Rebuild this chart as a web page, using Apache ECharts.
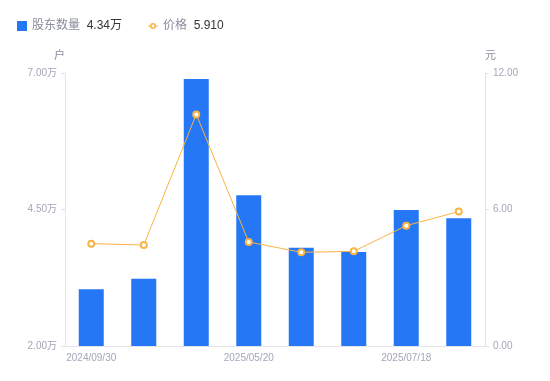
<!DOCTYPE html>
<html>
<head>
<meta charset="utf-8">
<style>
  html, body { margin: 0; padding: 0; background: #fff; }
  #chart { width: 550px; height: 381px; }
</style>
<script src="https://cdn.jsdelivr.net/npm/echarts@6/dist/echarts.min.js"></script>
</head>
<body>
<div id="chart"></div>
<script>
// 日期
var dates = ['2024/09/30', '2024/12/31', '2025/03/31', '2025/05/20', '2025/06/10', '2025/06/30', '2025/07/18', '2025/08/10'];
// 股东数量 (万户)
var holders = [3.04, 3.23, 6.89, 4.76, 3.80, 3.72, 4.49, 4.34];
// 价格 (元)
var prices = [4.50, 4.44, 10.18, 4.57, 4.12, 4.16, 5.29, 5.91];
var leftTicks = [2, 4.5, 7];
var rightTicks = [0, 6, 12];

var font = '"Liberation Sans", "Noto Sans CJK SC", sans-serif';
var axisGray = '#A3A6B8';
var lineGray = '#E3E4EA';
var blue = '#2577F5';
var orange = '#F9B445';

// 图例里的 线+空心圆
var lineIcon = 'path://M0 4.4H2.2V5.6H0Z M7.8 4.4H10V5.6H7.8Z ' +
  'M5 2A3 3 0 1 1 5 8A3 3 0 1 1 5 2Z M5 3.6A1.4 1.4 0 1 0 5 6.4A1.4 1.4 0 1 0 5 3.6Z';

var chart = echarts.init(document.getElementById('chart'));

var latest = {
  '股东数量': holders[holders.length - 1].toFixed(2) + '万',
  '价格': prices[prices.length - 1].toFixed(3)
};

chart.setOption({
  animation: false,
  textStyle: { fontFamily: font },
  legend: {
    left: 12,
    top: 15,
    itemWidth: 10,
    itemHeight: 10,
    itemGap: 26,
    data: [
      { name: '股东数量', icon: 'rect' },
      { name: '价格', icon: lineIcon }
    ],
    formatter: function (name) {
      return '{n|' + name + '}  {v|' + latest[name] + '}';
    },
    textStyle: {
      rich: {
        n: { color: '#8A8D9C', fontSize: 12, fontFamily: font },
        v: { color: '#333', fontSize: 12, fontFamily: font }
      }
    }
  },
  grid: { left: 65, right: 65, top: 73, bottom: 35 },
  xAxis: {
    type: 'category',
    data: dates,
    axisLine: { lineStyle: { color: lineGray } },
    axisTick: { show: false },
    axisLabel: { interval: 2, color: axisGray, fontSize: 10, margin: 7 }
  },
  yAxis: [
    {
      type: 'value',
      name: '户',
      nameGap: 12,
      nameTextStyle: { color: '#8A8D9C', fontSize: 11, align: 'right' },
      min: 2,
      max: 7,
      axisLine: { show: true, lineStyle: { color: lineGray } },
      axisTick: { show: true, length: 4, lineStyle: { color: lineGray }, customValues: leftTicks },
      splitLine: { show: false },
      axisLabel: {
        color: axisGray, fontSize: 10, margin: 8,
        customValues: leftTicks,
        formatter: function (v) { return v.toFixed(2) + '万'; }
      }
    },
    {
      type: 'value',
      name: '元',
      nameGap: 12,
      nameTextStyle: { color: '#8A8D9C', fontSize: 11, align: 'left' },
      min: 0,
      max: 12,
      axisLine: { show: true, lineStyle: { color: lineGray } },
      axisTick: { show: true, length: 4, lineStyle: { color: lineGray }, customValues: rightTicks },
      splitLine: { show: false },
      axisLabel: {
        color: axisGray, fontSize: 10, margin: 8,
        customValues: rightTicks,
        formatter: function (v) { return v.toFixed(2); }
      }
    }
  ],
  series: [
    {
      name: '股东数量',
      type: 'bar',
      yAxisIndex: 0,
      barWidth: 25,
      itemStyle: { color: blue },
      data: holders
    },
    {
      name: '价格',
      type: 'line',
      yAxisIndex: 1,
      symbol: 'emptyCircle',
      symbolSize: 6,
      lineStyle: { color: orange, width: 1 },
      itemStyle: { color: orange, borderWidth: 2 },
      data: prices
    }
  ]
});
</script>
</body>
</html>
